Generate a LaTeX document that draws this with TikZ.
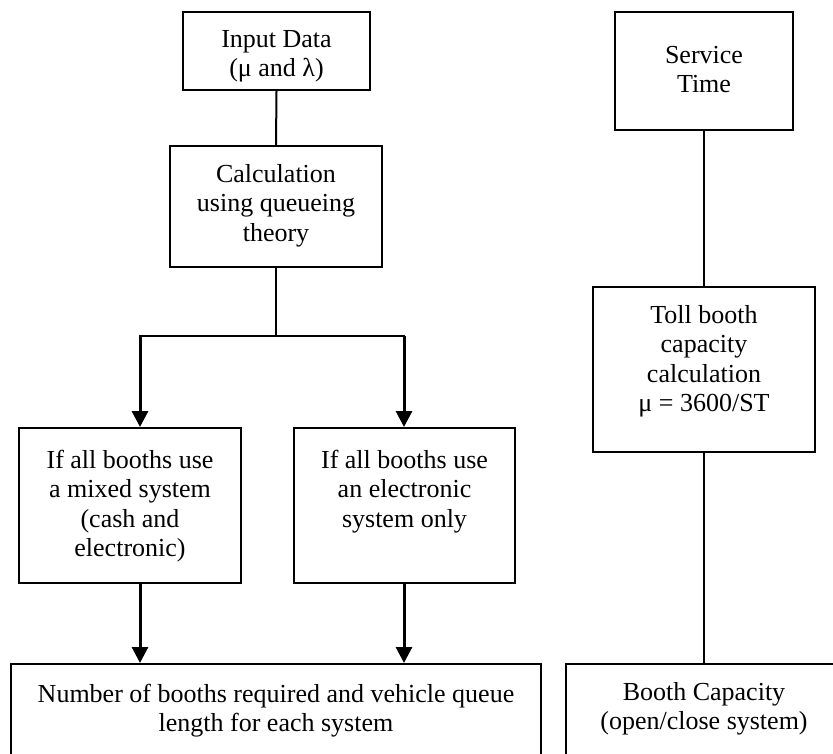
\documentclass[tikz,border=0pt]{standalone}
\usepackage{fontspec}
\setmainfont{Liberation Serif}
\usetikzlibrary{arrows.meta,calc}
\begin{document}
\begin{tikzpicture}[x=1pt,y=-1pt,
  box/.style={draw=black,line width=2pt,inner sep=0pt,fill=none},
  txt/.style={inner sep=0pt,align=center,anchor=north,font=\fontsize{26}{29.5}\selectfont},
  conn/.style={line width=2pt},
  arr/.style={line width=3pt,-{Triangle[length=16pt,width=16pt]}}]
\useasboundingbox (0,0) rectangle (833,754);
\clip (0,0) rectangle (833,754);
% boxes
\node[box,minimum width=187pt,minimum height=78pt] (input) at (276.5,51) {};
\node[box,minimum width=212pt,minimum height=121pt] (calc) at (276,206.5) {};
\node[box,minimum width=222pt,minimum height=155pt] (mixed) at (130,505.5) {};
\node[box,minimum width=221pt,minimum height=155pt] (elec) at (404.5,505.5) {};
\node[box,minimum width=530pt,minimum height=140pt] (result) at (276,734) {};
\node[box,minimum width=178pt,minimum height=118pt] (service) at (704,71) {};
\node[box,minimum width=222pt,minimum height=165pt] (toll) at (704,369.5) {};
\node[box,minimum width=276pt,minimum height=140pt] (booth) at (704,734) {};
% texts (north = first baseline - 20.65)
\node[txt] (tinput) at (276.5,26.35) {\strut Input Data\\(μ and λ)};
\node[txt] (tcalc) at (276,161.35) {\strut Calculation\\using queueing\\theory};
\node[txt] (tmixed) at (130,447.35) {\strut If all booths use\\a mixed system\\(cash and\\electronic)};
\node[txt] (telec) at (404.5,447.35) {\strut If all booths use\\an electronic\\system only};
\node[txt] (tresult) at (276,681.35) {\strut Number of booths required and vehicle queue\\length for each system};
\node[txt] (tservice) at (704,42.35) {\strut Service\\Time};
\node[txt] (ttoll) at (704,302.35) {\strut Toll booth\\capacity\\calculation\\μ = 3600/ST};
\node[txt] (tbooth) at (704,679.35) {\strut Booth Capacity\\(open/close system)};
% junction
\coordinate (jc) at (276,336);
\coordinate (jl) at (140,336);
\coordinate (jr) at (404,336);
% connectors
\draw[conn] (input.south) -- (calc.north);
\draw[conn] (calc.south) -- (jc);
\draw[conn,line cap=rect] (jl) -- (jr);
\draw[arr] (jl) -- (jl |- mixed.north);
\draw[arr] (jr) -- (jr |- elec.north);
\draw[arr] (jl |- mixed.south) -- (jl |- result.north);
\draw[arr] (jr |- elec.south) -- (jr |- result.north);
\draw[conn] (service.south) -- (toll.north);
\draw[conn] (toll.south) -- (booth.north);
\end{tikzpicture}
\end{document}
